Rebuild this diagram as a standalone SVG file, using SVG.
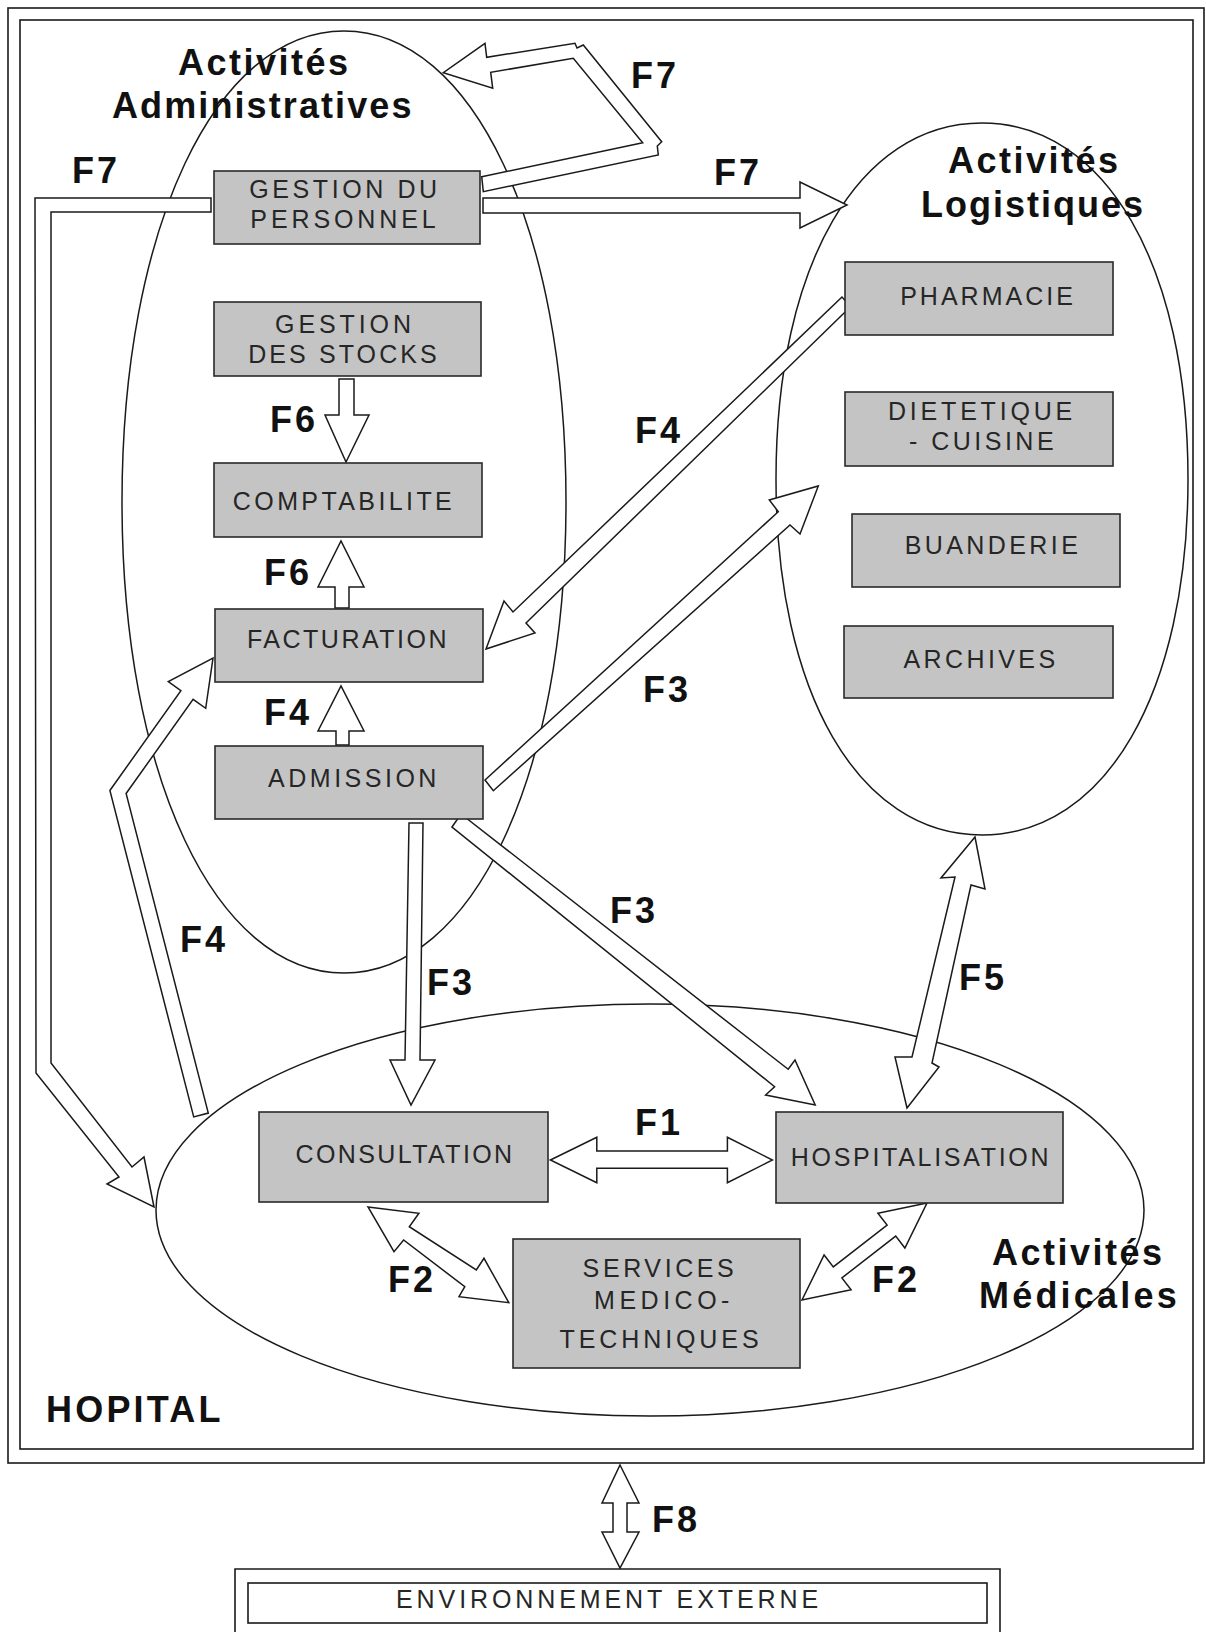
<svg xmlns="http://www.w3.org/2000/svg" width="1206" height="1632" viewBox="0 0 1206 1632">
  <style>
    .frame { fill: none; stroke: #1a1a1a; stroke-width: 1.6; }
    .zone { fill: none; stroke: #1a1a1a; stroke-width: 1.5; }
    .box { fill: #c4c4c4; stroke: #2a2a2a; stroke-width: 1.6; }
    .plain { fill: #ffffff; stroke: #1a1a1a; stroke-width: 1.5; }
    .flow { fill: #ffffff; stroke: #1a1a1a; stroke-width: 1.5; stroke-linejoin: miter; }
    .lbl { font-family: "Liberation Sans", Arial, sans-serif; font-size: 25px; fill: #262626; text-anchor: middle; letter-spacing: 3.4px; }
    .title { font-family: "Liberation Sans", Arial, sans-serif; font-size: 36px; font-weight: bold; fill: #111111; letter-spacing: 2.5px; }
    .flab { font-family: "Liberation Sans", Arial, sans-serif; font-size: 36px; font-weight: bold; fill: #111111; letter-spacing: 3px; }
  </style>

  <rect width="1206" height="1632" fill="#ffffff"/>

  <!-- hospital frame (double border) -->
  <g id="hopital">
    <rect class="frame" x="8" y="8" width="1196" height="1455"/>
    <rect class="frame" x="20" y="20" width="1173" height="1429"/>
    <text class="title" x="46" y="1422" style="letter-spacing:3.2px">HOPITAL</text>
  </g>

  <!-- activity zones -->
  <g id="zone-administratives">
    <path class="zone" d="M344,31 C472.8,31 566,228.8 566,502 C566,775.2 472.8,973 344,973 C215.2,973 122,775.2 122,502 C122,228.8 215.2,31 344,31 Z"/>
  </g>
  <g id="zone-logistiques">
    <path class="zone" d="M982,123 C1105.6,123 1188,265.4 1188,479 C1188,692.6 1105.6,835 982,835 C858.4,835 776,692.6 776,479 C776,265.4 858.4,123 982,123 Z"/>
  </g>
  <g id="zone-medicales">
    <ellipse class="zone" cx="650" cy="1210" rx="494" ry="206"/>
  </g>

  <!-- flows -->
  <g id="connectors">
    <!-- F7 loop back into administrative activities -->
    <polygon class="flow" points="481.7,176.7 642.7,142.7 573.3,58.3 490.7,72.3 492.7,88.3 443.3,72.7 485,43.3 486.7,57.3 575,43.3 577,48 583.3,45 661.7,141.7 657.3,146 658.3,155 483.3,191.7"/>
    <!-- F7 to logistics -->
    <polygon class="flow" points="483,198 800,198 800,182 847,205 800,228 800,213 483,213"/>
    <!-- F7 down the left side to medical activities -->
    <polygon class="flow" points="211,198 35,198 36,1073 119,1177 107,1184 154,1207 144,1157 132,1167 51,1063 51,212 211,212"/>
    <!-- F6 stocks to accounting -->
    <polygon class="flow" points="339,379 354,379 354,415 369,415 346,462 325,415 339,415"/>
    <!-- F6 invoicing to accounting -->
    <polygon class="flow" points="335,608 349,608 349,587 364,587 341,541 318,587 335,587"/>
    <!-- F4 admission to invoicing -->
    <polygon class="flow" points="336,745 349,745 349,731 364,731 341,686 318,731 336,731"/>
    <!-- F4 pharmacy to invoicing -->
    <polygon class="flow" points="842,297 513,612 504,601 486,649 535,633 526,623 850.5,306.7"/>
    <!-- F3 admission to logistics -->
    <polygon class="flow" points="485,780 778.3,511.7 769.3,500 818.3,486 800,534 790,525 493.3,790.7"/>
    <!-- F3 admission to consultation -->
    <polygon class="flow" points="409,823 423,823 420,1060 435,1060 411,1105 390,1060 405,1060"/>
    <!-- F3 admission to hospitalisation -->
    <polygon class="flow" points="452,827 461,814 788.2,1069.3 795,1060 815.2,1105 765.6,1095 774.6,1086.7"/>
    <!-- F4 medical activities to invoicing -->
    <polygon class="flow" points="193.7,1116.9 109.9,790.5 180.9,690.6 168.3,681.7 213,658 205.7,708.3 193.1,699.4 126.1,793.5 208.3,1113.1"/>
    <!-- F5 logistics <-> hospitalisation -->
    <polygon class="flow" points="975,837 985,889 971,885 932,1063 939,1067 907,1108 895,1057 912,1057 955,877 941,878"/>
    <!-- F1 consultation <-> hospitalisation -->
    <polygon class="flow" points="550.4,1160 596.8,1137.3 596.8,1151 727.4,1151 727.4,1137.3 772.4,1160 727.4,1182.7 727.4,1168.3 596.8,1168.3 596.8,1182.7"/>
    <!-- F2 consultation <-> medico-technical services -->
    <polygon class="flow" points="368,1207 418.9,1213.3 409.3,1226.7 476.3,1270 484,1258.3 508.8,1302.7 459,1296.7 464.8,1286.7 403.6,1240 394,1251.7"/>
    <!-- F2 hospitalisation <-> medico-technical services -->
    <polygon class="flow" points="927,1203 877.9,1213.2 887.1,1225.1 833.3,1266.9 824.1,1255 802,1300 851.1,1289.8 841.9,1277.9 895.7,1236.1 904.9,1248"/>
    <!-- F8 hospital <-> external environment -->
    <polygon class="flow" points="620,1465 639,1503 627,1503 627,1532 639,1532 620,1568 602,1532 613,1532 613,1503 602,1503"/>
  </g>

  <!-- administrative activities -->
  <g id="gestion-personnel">
    <rect class="box" x="214" y="171" width="266" height="73"/>
    <text class="lbl" x="345" y="198" style="letter-spacing:3.6px">GESTION DU</text>
    <text class="lbl" x="345" y="228" style="letter-spacing:3.9px">PERSONNEL</text>
  </g>
  <g id="gestion-stocks">
    <rect class="box" x="214" y="302" width="267" height="74"/>
    <text class="lbl" x="345" y="333" style="letter-spacing:3.9px">GESTION</text>
    <text class="lbl" x="344" y="363" style="letter-spacing:3.1px">DES STOCKS</text>
  </g>
  <g id="comptabilite">
    <rect class="box" x="214" y="463" width="268" height="74"/>
    <text class="lbl" x="344" y="510">COMPTABILITE</text>
  </g>
  <g id="facturation">
    <rect class="box" x="215" y="609" width="268" height="73"/>
    <text class="lbl" x="348" y="648" style="letter-spacing:2.5px">FACTURATION</text>
  </g>
  <g id="admission">
    <rect class="box" x="215" y="746" width="268" height="73"/>
    <text class="lbl" x="354" y="787" style="letter-spacing:3.5px">ADMISSION</text>
  </g>

  <!-- logistic activities -->
  <g id="pharmacie">
    <rect class="box" x="845" y="262" width="268" height="73"/>
    <text class="lbl" x="988" y="305" style="letter-spacing:3px">PHARMACIE</text>
  </g>
  <g id="dietetique-cuisine">
    <rect class="box" x="845" y="392" width="268" height="74"/>
    <text class="lbl" x="982" y="420" style="letter-spacing:3.8px">DIETETIQUE</text>
    <text class="lbl" x="983" y="450" style="letter-spacing:3.5px">- CUISINE</text>
  </g>
  <g id="buanderie">
    <rect class="box" x="852" y="514" width="268" height="73"/>
    <text class="lbl" x="993" y="554">BUANDERIE</text>
  </g>
  <g id="archives">
    <rect class="box" x="844" y="626" width="269" height="72"/>
    <text class="lbl" x="981" y="668">ARCHIVES</text>
  </g>

  <!-- medical activities -->
  <g id="consultation">
    <rect class="box" x="259" y="1112" width="289" height="90"/>
    <text class="lbl" x="405" y="1163" style="letter-spacing:2.4px">CONSULTATION</text>
  </g>
  <g id="hospitalisation">
    <rect class="box" x="776" y="1112" width="287" height="91"/>
    <text class="lbl" x="921" y="1166" style="letter-spacing:2.7px">HOSPITALISATION</text>
  </g>
  <g id="services-medico-techniques">
    <rect class="box" x="513" y="1239" width="287" height="129"/>
    <text class="lbl" x="660" y="1277" style="letter-spacing:3.6px">SERVICES</text>
    <text class="lbl" x="664" y="1309" style="letter-spacing:4.5px">MEDICO-</text>
    <text class="lbl" x="661" y="1348" style="letter-spacing:3.9px">TECHNIQUES</text>
  </g>

  <!-- external environment -->
  <g id="environnement-externe">
    <path class="frame" d="M235,1640 V1569 H1000 V1640"/>
    <rect class="frame" x="248" y="1583" width="739" height="40"/>
    <text class="lbl" x="609" y="1608" style="letter-spacing:3.9px">ENVIRONNEMENT EXTERNE</text>
  </g>

  <!-- zone titles -->
  <g id="titres">
    <text class="title" x="178" y="75">Activités</text>
    <text class="title" x="112" y="118" style="letter-spacing:2.1px">Administratives</text>
    <text class="title" x="948" y="173">Activités</text>
    <text class="title" x="921" y="217" style="letter-spacing:2px">Logistiques</text>
    <text class="title" x="992" y="1265">Activités</text>
    <text class="title" x="979" y="1308" style="letter-spacing:3.2px">Médicales</text>
  </g>

  <!-- flow labels -->
  <g id="flux-labels">
    <text class="flab" x="631" y="88">F7</text>
    <text class="flab" x="72" y="183">F7</text>
    <text class="flab" x="714" y="185">F7</text>
    <text class="flab" x="270" y="432">F6</text>
    <text class="flab" x="264" y="585">F6</text>
    <text class="flab" x="264" y="725">F4</text>
    <text class="flab" x="635" y="443">F4</text>
    <text class="flab" x="643" y="702">F3</text>
    <text class="flab" x="610" y="923">F3</text>
    <text class="flab" x="180" y="952">F4</text>
    <text class="flab" x="427" y="995">F3</text>
    <text class="flab" x="959" y="990">F5</text>
    <text class="flab" x="635" y="1135">F1</text>
    <text class="flab" x="388" y="1292">F2</text>
    <text class="flab" x="872" y="1292">F2</text>
    <text class="flab" x="652" y="1532">F8</text>
  </g>
</svg>
